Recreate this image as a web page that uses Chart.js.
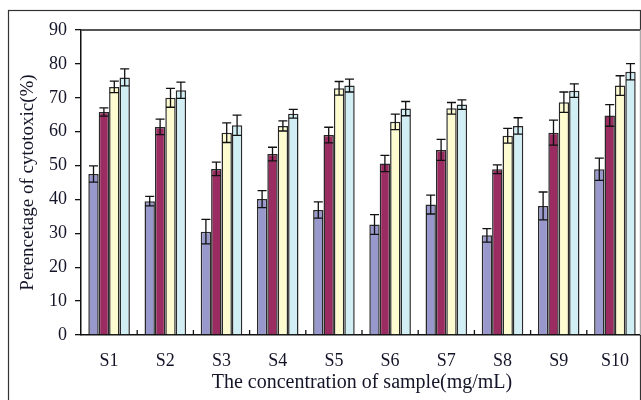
<!DOCTYPE html>
<html>
<head>
<meta charset="utf-8">
<script src="https://cdn.jsdelivr.net/npm/chart.js@4.4.1/dist/chart.umd.min.js"></script>
<style>
  html, body { margin: 0; padding: 0; background: #fff; overflow: hidden; }
  #wrap { width: 641px; height: 400px; position: relative; overflow: hidden; }
  #c { position: absolute; left: 0; top: 0; }
</style>
</head>
<body>
<div id="wrap"><canvas id="c" width="645" height="400"></canvas></div>
<script>
const categories = ['S1', 'S2', 'S3', 'S4', 'S5', 'S6', 'S7', 'S8', 'S9', 'S10'];
const seriesA = [47.5, 39.5, 30.5, 40.1, 36.9, 32.6, 38.5, 29.4, 38.1, 48.9];
const errA    = [2.4, 1.4, 3.6, 2.5, 2.4, 2.9, 2.8, 2.0, 4.1, 3.3];
const seriesB = [65.8, 61.4, 49.0, 53.4, 59.0, 50.6, 54.6, 48.9, 59.7, 64.8];
const errB    = [1.2, 2.3, 2.0, 2.0, 2.3, 2.4, 3.1, 1.3, 3.7, 3.2];
const seriesC = [73.2, 70.0, 59.7, 61.7, 72.8, 62.9, 66.9, 58.8, 68.7, 73.6];
const errC    = [1.7, 2.8, 2.9, 1.5, 2.0, 2.3, 1.7, 2.2, 3.0, 2.9];
const seriesD = [76.0, 72.2, 61.9, 65.3, 73.6, 66.8, 68.0, 61.7, 72.1, 77.7];
const errD    = [2.5, 2.4, 3.0, 1.3, 1.9, 2.1, 1.4, 2.4, 2.0, 2.4];
const yTicks  = [0, 10, 20, 30, 40, 50, 60, 70, 80, 90];

const serif = '"Liberation Serif", "Times New Roman", serif';
const textColor = '#141428';

const errorBars = {
  id: 'errorBars',
  afterDatasetsDraw(chart) {
    const ctx = chart.ctx;
    const y = chart.scales.y;
    ctx.save();
    ctx.strokeStyle = '#111';
    ctx.lineWidth = 1.3;
    chart.data.datasets.forEach((ds, di) => {
      const meta = chart.getDatasetMeta(di);
      meta.data.forEach((bar, i) => {
        const v = ds.data[i], e = ds.errors[i];
        const yt = y.getPixelForValue(v + e);
        const yb = y.getPixelForValue(v - e);
        const x = bar.x;
        const hw = 4.5;
        ctx.beginPath();
        ctx.moveTo(x, yt); ctx.lineTo(x, yb);
        ctx.moveTo(x - hw, yt); ctx.lineTo(x + hw, yt);
        ctx.moveTo(x - hw, yb); ctx.lineTo(x + hw, yb);
        ctx.stroke();
      });
    });
    ctx.restore();
  }
};

const frame = {
  id: 'frame',
  beforeDraw(chart) {
    const ctx = chart.ctx;
    ctx.save();
    ctx.fillStyle = '#fff';
    ctx.fillRect(0, 0, chart.width, chart.height);
    ctx.strokeStyle = '#333';
    ctx.lineWidth = 1.2;
    ctx.strokeRect(8.5, 10.5, 632, 420);
    ctx.restore();
  },
  afterDraw(chart) {
    const ctx = chart.ctx;
    const a = chart.chartArea;
    const x = chart.scales.x;
    ctx.save();
    ctx.strokeStyle = '#555';
    ctx.lineWidth = 2;
    ctx.beginPath();
    ctx.moveTo(a.left, a.top); ctx.lineTo(a.right, a.top);
    ctx.stroke();
    ctx.strokeStyle = '#aaa';
    ctx.lineWidth = 1;
    ctx.beginPath();
    ctx.moveTo(640.5, a.top); ctx.lineTo(640.5, a.bottom);
    ctx.stroke();
    ctx.strokeStyle = '#111';
    ctx.lineWidth = 1.3;
    const n = categories.length;
    for (let i = 1; i < n; i++) {
      const px = (x.getPixelForValue(i - 1) + x.getPixelForValue(i)) / 2;
      ctx.beginPath();
      ctx.moveTo(px, a.bottom); ctx.lineTo(px, a.bottom - 5);
      ctx.stroke();
    }
    ctx.restore();
  }
};

const mk = (label, data, errors, color) => ({
  label, data, errors,
  backgroundColor: color,
  borderColor: '#2a2a2a',
  borderWidth: 1.5,
  borderSkipped: 'bottom',
  categoryPercentage: 0.74,
  barPercentage: 1.0
});

new Chart(document.getElementById('c'), {
  type: 'bar',
  data: {
    labels: categories,
    datasets: [
      mk('Series 1', seriesA, errA, '#9898cc'),
      mk('Series 2', seriesB, errB, '#9b2c62'),
      mk('Series 3', seriesC, errC, '#fdfbd0'),
      mk('Series 4', seriesD, errD, '#d2eef5')
    ]
  },
  options: {
    responsive: false,
    devicePixelRatio: 1,
    animation: false,
    layout: { padding: { left: 0, top: 30, right: 2, bottom: 0 } },
    plugins: { legend: { display: false }, tooltip: { enabled: false } },
    scales: {
      x: {
        grid: { display: false },
        border: { display: true, color: '#111', width: 1.5 },
        ticks: { color: textColor, font: { family: serif, size: 18 }, padding: 7, maxRotation: 0 },
        title: {
          display: true,
          text: 'The concentration of sample(mg/mL)',
          color: textColor,
          font: { family: serif, size: 20 },
          padding: { top: 5, bottom: 5 }
        },
        afterFit(s) { s.height = 65; }
      },
      y: {
        min: 0, max: 90,
        afterBuildTicks(s) { s.ticks = yTicks.map(v => ({ value: v })); },
        grid: { display: true, drawOnChartArea: false, drawTicks: true, tickLength: 6, color: '#111', lineWidth: 1.3 },
        border: { display: true, color: '#111', width: 1.5 },
        ticks: { color: textColor, font: { family: serif, size: 18 }, padding: 8 },
        title: {
          display: true,
          text: 'Perencetage of cytotoxic(%)',
          color: textColor,
          font: { family: serif, size: 19 },
          padding: { top: 17, bottom: 17 }
        },
        afterFit(s) { s.width = 81; }
      }
    }
  },
  plugins: [frame, errorBars]
});
</script>
</body>
</html>
